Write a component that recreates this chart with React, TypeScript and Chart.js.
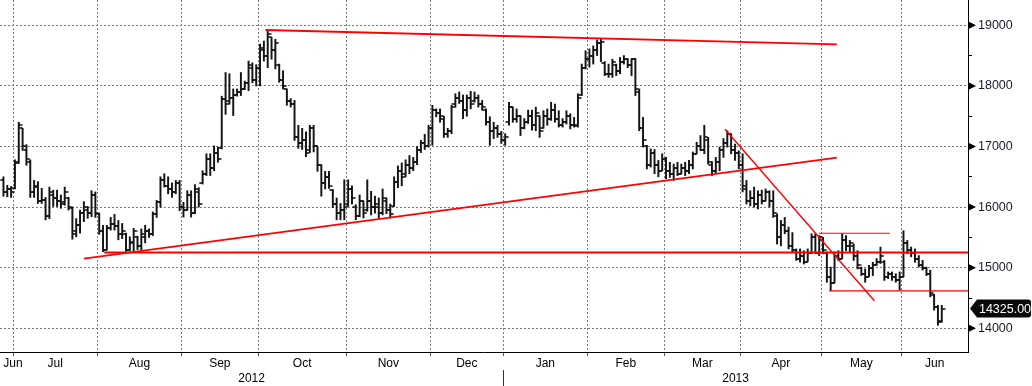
import React, { useEffect, useRef } from 'react';
import { Chart, registerables } from 'chart.js';

Chart.register(...registerables);

// ---- axis labels ----
const MONTH_LABELS = ['Jun', 'Jul', 'Aug', 'Sep', 'Oct', 'Nov', 'Dec', 'Jan', 'Feb', 'Mar', 'Apr', 'May', 'Jun'];
const MONTH_BARS = [3, 22, 22, 20, 23, 22, 19, 22, 20, 20, 21, 21, 11];
const YEAR_LABELS = ['2012', '2013'];
const Y_TICKS = [14000, 14500, 15000, 15500, 16000, 16500, 17000, 17500, 18000, 18500, 19000];

// ---- daily OHLC ----
const OPEN = [
  16450, 16250, 16300, 16320, 16750, 17300, 16950, 16750, 16250, 16350,
  16100, 16120, 15850, 16200, 16150, 16100, 16080, 16150, 15990, 15600,
  15700, 15900, 15950, 15900, 16200, 15880, 15600, 15300, 15650, 15720,
  15680, 15550, 15550, 15300, 15400, 15500, 15350, 15500, 15600, 15550,
  15880, 16080, 16450, 16350, 16300, 16250, 16400, 16000, 15950, 16200,
  15900, 16250, 16400, 16550, 16800, 16650, 16900, 16980, 17780, 17750,
  17800, 17850, 17900, 17950, 18050, 18300, 18100, 18300, 18600, 18500,
  18800, 18600, 18350, 18100, 17950, 17750, 17700, 17150, 17050, 17100,
  16950, 17300, 17000, 16700, 16400, 16500, 16290, 16050, 15900, 15950,
  16050, 16300, 16000, 15850, 16100, 15950, 16100, 16000, 16000, 15900,
  16100, 15950, 16010, 16420, 16600, 16550, 16700, 16650, 16750, 16950,
  17050, 17000, 17300, 17600, 17550, 17450, 17200, 17250, 17700, 17800,
  17750, 17600, 17800, 17750, 17800, 17700, 17600, 17400, 17250, 17300,
  17200, 17100, 17400, 17650, 17450, 17500, 17300, 17400, 17500, 17350,
  17500, 17300, 17500, 17450, 17600, 17450, 17350, 17400, 17500, 17350,
  17350, 17850, 18300, 18450, 18500, 18600, 18700, 18380, 18200, 18200,
  18350, 18250, 18400, 18450, 18350, 18450, 17900, 17300, 17000, 16700,
  16900, 16700, 16600, 16800, 16600, 16550, 16650, 16550, 16650, 16600,
  16700, 16880, 17000, 16950, 17100, 16700, 16600, 16750, 16950, 17050,
  17200, 16950, 16900, 16700, 16300, 16100, 16150, 16050, 16200, 16100,
  16250, 16100, 15850, 15500, 15700, 15600, 15350, 15300, 15150, 15200,
  15100, 15250, 15500, 15250, 15450, 15250, 14850, 14750, 15200, 15150,
  15450, 15350, 15350, 15200, 15000, 14900, 14850, 15000, 15050, 15100,
  15100, 14850, 14900, 14850, 14800, 14850, 15400, 15300, 15250, 15150,
  15050, 15000, 14900, 14550, 14350, 14120,
];
const HIGH = [
  16500, 16360, 16340, 16780, 17400, 17300, 17030, 16780, 16440, 16420,
  16310, 16160, 16330, 16280, 16280, 16200, 16330, 16160, 16000, 15810,
  15950, 16090, 16010, 16270, 16250, 15900, 15700, 15700, 15830, 15880,
  15780, 15730, 15570, 15510, 15650, 15520, 15640, 15700, 15640, 15920,
  16110, 16500, 16550, 16500, 16400, 16440, 16440, 16080, 16270, 16270,
  16370, 16320, 16600, 16880, 16880, 17010, 16990, 17830, 18220, 18200,
  17950, 17950, 18220, 18080, 18410, 18380, 18350, 18690, 18740, 18920,
  18800, 18770, 18360, 18250, 17950, 17790, 17760, 17350, 17300, 17240,
  17350, 17350, 17000, 16700, 16590, 16590, 16290, 16150, 16060, 16450,
  16450, 16350, 16040, 16200, 16100, 16450, 16260, 16180, 16150, 16300,
  16150, 16050, 16500, 16680, 16730, 16780, 16850, 16820, 17000, 17100,
  17200, 17350, 17680, 17620, 17620, 17500, 17300, 17680, 17870, 17900,
  17850, 17850, 17910, 17900, 17850, 17760, 17620, 17490, 17400, 17350,
  17250, 17210, 17730, 17650, 17620, 17510, 17460, 17600, 17600, 17650,
  17510, 17590, 17620, 17730, 17700, 17590, 17460, 17590, 17540, 17480,
  17870, 18360, 18580, 18610, 18660, 18760, 18770, 18400, 18360, 18440,
  18360, 18470, 18500, 18450, 18450, 18450, 17950, 17480, 17020, 16960,
  16950, 16770, 16880, 16820, 16740, 16710, 16740, 16710, 16740, 16770,
  16910, 17070, 17180, 17350, 17150, 16750, 16820, 16990, 17130, 17260,
  17210, 17040, 16930, 16880, 16440, 16270, 16330, 16270, 16280, 16300,
  16270, 16270, 15890, 15780, 15830, 15670, 15580, 15310, 15310, 15280,
  15310, 15560, 15560, 15530, 15500, 15260, 15010, 15260, 15280, 15560,
  15530, 15450, 15390, 15280, 15010, 14980, 15040, 15090, 15150, 15340,
  15120, 14930, 14930, 14900, 14930, 15610, 15450, 15340, 15310, 15200,
  15120, 15010, 14960, 14560, 14380, 14380,
];
const LOW = [
  16180, 16170, 16160, 16300, 16720, 16940, 16690, 16160, 16160, 16060,
  16060, 15790, 15810, 16010, 16010, 15980, 16030, 15950, 15470, 15510,
  15570, 15760, 15815, 15840, 15830, 15550, 15265, 15290, 15620, 15620,
  15460, 15480, 15270, 15280, 15280, 15300, 15290, 15410, 15500, 15530,
  15830, 16000, 16330, 16220, 16160, 16220, 15940, 15835, 15945, 15835,
  15890, 16000, 16380, 16520, 16520, 16600, 16740, 16960, 17530, 17700,
  17510, 17830, 17840, 17940, 17920, 18050, 18000, 18000, 18410, 18300,
  18440, 18280, 18060, 17950, 17680, 17650, 17100, 16970, 16950, 16830,
  16900, 16910, 16590, 16180, 16300, 16310, 15990, 15790, 15790, 15790,
  16010, 16050, 15790, 15840, 15820, 15930, 15870, 15900, 15820, 15870,
  15890, 15820, 16010, 16320, 16350, 16500, 16550, 16600, 16700, 16900,
  16950, 16990, 17020, 17490, 17400, 17150, 17150, 17210, 17650, 17710,
  17460, 17500, 17620, 17730, 17650, 17600, 17350, 17020, 17130, 17150,
  17050, 17020, 17350, 17400, 17400, 17180, 17290, 17380, 17270, 17260,
  17150, 17300, 17350, 17430, 17400, 17320, 17320, 17370, 17290, 17320,
  17320, 17840, 18280, 18310, 18360, 18500, 18400, 18170, 18140, 18140,
  18170, 18200, 18360, 18300, 18170, 17840, 17260, 16990, 16630, 16660,
  16550, 16500, 16600, 16470, 16490, 16440, 16520, 16550, 16520, 16550,
  16630, 16880, 16930, 16880, 16710, 16520, 16550, 16600, 16820, 16990,
  16880, 16770, 16630, 16250, 16050, 16020, 16000, 15970, 16050, 16100,
  16000, 15830, 15390, 15360, 15560, 15310, 15250, 15120, 15090, 15060,
  15100, 15230, 15230, 15200, 15230, 14760, 14620, 14750, 15120, 15150,
  15280, 15250, 15120, 14980, 14870, 14760, 14850, 14870, 15040, 15070,
  14790, 14820, 14790, 14760, 14630, 14850, 15230, 15180, 15090, 15010,
  14960, 14870, 14520, 14300, 14050, 14100,
];
const CLOSE = [
  16250, 16300, 16250, 16720, 17350, 17000, 16800, 16250, 16330, 16100,
  16120, 15850, 16250, 16150, 16100, 16050, 16250, 16000, 15550, 15700,
  15900, 16000, 15900, 16200, 15900, 15600, 15300, 15650, 15720, 15680,
  15550, 15600, 15300, 15420, 15600, 15350, 15550, 15600, 15550, 15880,
  16080, 16450, 16350, 16300, 16250, 16400, 16000, 15950, 16200, 15900,
  16300, 16050, 16550, 16800, 16650, 16900, 16800, 17780, 17700, 17800,
  17850, 17900, 17950, 18050, 18350, 18100, 18300, 18620, 18500, 18850,
  18600, 18700, 18100, 18000, 17750, 17700, 17150, 17050, 17100, 16900,
  17300, 17000, 16700, 16400, 16500, 16350, 16050, 15900, 15950, 16000,
  16300, 16150, 15850, 16100, 15900, 16100, 16000, 16050, 15900, 16150,
  15950, 15880, 16420, 16600, 16500, 16700, 16650, 16750, 16950, 17050,
  17000, 17300, 17600, 17550, 17500, 17200, 17250, 17650, 17800, 17750,
  17600, 17800, 17700, 17800, 17700, 17650, 17400, 17250, 17300, 17200,
  17100, 17150, 17650, 17450, 17500, 17300, 17400, 17500, 17350, 17550,
  17250, 17500, 17450, 17600, 17450, 17350, 17400, 17500, 17350, 17330,
  17800, 18300, 18450, 18500, 18600, 18700, 18720, 18200, 18200, 18400,
  18250, 18400, 18450, 18350, 18450, 17950, 17300, 17100, 16700, 16900,
  16700, 16600, 16800, 16600, 16550, 16650, 16550, 16650, 16600, 16700,
  16880, 17000, 16950, 17150, 16750, 16600, 16750, 16950, 17050, 17200,
  16950, 16900, 16700, 16350, 16100, 16150, 16050, 16200, 16100, 16250,
  16100, 15900, 15500, 15700, 15600, 15350, 15300, 15150, 15200, 15100,
  15250, 15500, 15250, 15500, 15300, 14850, 14750, 15200, 15150, 15450,
  15350, 15400, 15200, 15050, 14900, 14850, 15000, 15050, 15100, 15200,
  14850, 14900, 14850, 14800, 14850, 15400, 15300, 15250, 15150, 15050,
  15000, 14900, 14580, 14350, 14100, 14325,
];

// ---- trend lines: [barIndex, price] endpoints ----
const TREND_TOP = [[68.4, 18922], [217.6, 18686]];
const TREND_RISING = [[21.0, 15149], [217.6, 16815]];
const TREND_FLAT = [[26.3, 15251], [251.85, 15251]];
const TREND_DOWN = [[188.4, 17284], [227.4, 14455]];
const BOX_TOP = [[212.9, 15568], [231.5, 15568]];
const BOX_BOTTOM = [[215.6, 14616], [251.85, 14616]];

const X_MIN = -0.9;
const X_MAX = 251.85;
const Y_MIN = 13609;
const Y_MAX = 19417;

const FONT = '"Liberation Sans", Arial, sans-serif';
const RED = '#ff0000';
const BAR = '#141414';
const GRID = '#7a7a7a';

export default function App() {
  const ref = useRef<HTMLCanvasElement>(null);

  useEffect(() => {
    const canvas = ref.current!;
    const mkTick = (left: boolean) => {
      const c = document.createElement('canvas');
      c.width = 8;
      c.height = 2;
      const g = c.getContext('2d')!;
      g.fillStyle = BAR;
      g.fillRect(left ? 0.5 : 4, 0.2, 3.5, 1.6);
      return c;
    };
    const openImg = mkTick(true);
    const closeImg = mkTick(false);

    const boundaries: number[] = [];
    let acc = 0;
    for (let k = 0; k < MONTH_BARS.length - 1; k++) {
      acc += MONTH_BARS[k];
      boundaries.push(acc - 0.5);
    }
    const monthPos = MONTH_LABELS.map((_, k) => {
      if (k === 0) return boundaries[0];
      const a = boundaries[k - 1];
      const b = k < boundaries.length ? boundaries[k] : X_MAX;
      return (a + b) / 2;
    });
    const yearSplit = boundaries[6];
    const yearTicks = [(X_MIN + yearSplit) / 2, yearSplit, (yearSplit + X_MAX) / 2];
    const yearText = [YEAR_LABELS[0], '', YEAR_LABELS[1]];

    const idx = OPEN.map((_, i) => i);
    const line = (pts: number[][], color: string, width: number) => ({
      type: 'line' as const,
      data: pts.map(([x, y]) => ({ x, y })),
      borderColor: color,
      borderWidth: width,
      pointRadius: 0,
      fill: false,
      order: 0,
    });

    const axisMarks = {
      id: 'axisMarks',
      afterDraw(chart: any) {
        const ys = chart.scales.y;
        const ctx = chart.ctx;
        const x0 = ys.left;
        ctx.save();
        ctx.fillStyle = '#000';
        Y_TICKS.filter((v) => v % 1000 === 0).forEach((v) => {
          const py = ys.getPixelForValue(v);
          ctx.beginPath();
          ctx.moveTo(x0 + 1, py - 3.5);
          ctx.lineTo(x0 + 8, py);
          ctx.lineTo(x0 + 1, py + 3.5);
          ctx.closePath();
          ctx.fill();
        });
        const last = CLOSE[CLOSE.length - 1];
        const py = ys.getPixelForValue(last);
        const left = x0 + 9;
        const right = 1031;
        const h = 9;
        const r = 3;
        ctx.fillStyle = '#0a0a0a';
        ctx.beginPath();
        ctx.moveTo(x0 + 2, py);
        ctx.lineTo(left, py - h);
        ctx.lineTo(right - r, py - h);
        ctx.quadraticCurveTo(right, py - h, right, py - h + r);
        ctx.lineTo(right, py + h - r);
        ctx.quadraticCurveTo(right, py + h, right - r, py + h);
        ctx.lineTo(left, py + h);
        ctx.closePath();
        ctx.fill();
        ctx.fillStyle = '#ffffff';
        ctx.font = `12.5px ${FONT}`;
        ctx.textAlign = 'center';
        ctx.textBaseline = 'middle';
        ctx.fillText(last.toFixed(2), (left + right) / 2 + 1, py + 0.5);
        ctx.restore();
      },
    };

    const chart = new Chart(canvas, {
      type: 'bar',
      data: {
        datasets: [
          line(TREND_TOP, RED, 1.8),
          line(TREND_RISING, RED, 1.8),
          line(TREND_FLAT, RED, 1.8),
          line(TREND_DOWN, RED, 1.4),
          line(BOX_TOP, RED, 1.2),
          line(BOX_BOTTOM, RED, 1.2),
          {
            type: 'line' as const,
            data: idx.map((i) => ({ x: i, y: OPEN[i] })),
            showLine: false,
            pointStyle: openImg as any,
            pointRadius: 2,
            order: 1,
          },
          {
            type: 'line' as const,
            data: idx.map((i) => ({ x: i, y: CLOSE[i] })),
            showLine: false,
            pointStyle: closeImg as any,
            pointRadius: 2,
            order: 1,
          },
          {
            type: 'bar' as const,
            data: idx.map((i) => ({ x: i, y: [LOW[i], HIGH[i]] })) as any,
            backgroundColor: BAR,
            borderWidth: 0,
            barThickness: 1.3,
            grouped: false,
            order: 2,
          },
        ],
      },
      options: {
        responsive: false,
        maintainAspectRatio: false,
        devicePixelRatio: 1,
        animation: false,
        events: [],
        layout: { padding: 0, autoPadding: false },
        plugins: { legend: { display: false }, tooltip: { enabled: false } },
        scales: {
          x: {
            type: 'linear',
            axis: 'x',
            position: 'bottom',
            weight: 0,
            min: X_MIN,
            max: X_MAX,
            offset: false,
            afterBuildTicks: (s: any) => {
              s.ticks = boundaries.map((v) => ({ value: v }));
            },
            afterFit: (s: any) => {
              s.height = 0;
              s.paddingLeft = 0;
              s.paddingRight = 0;
            },
            ticks: { display: false },
            grid: {
              offset: false,
              color: GRID,
              lineWidth: 1,
              drawTicks: true,
              tickLength: 4,
              tickColor: '#555',
            },
            border: { display: true, color: '#000', width: 1, dash: [2, 2] },
          },
          xm: {
            type: 'linear',
            axis: 'x',
            position: 'bottom',
            weight: 1,
            min: X_MIN,
            max: X_MAX,
            offset: false,
            afterBuildTicks: (s: any) => {
              s.ticks = monthPos.map((v) => ({ value: v }));
            },
            afterFit: (s: any) => {
              s.height = 18;
              s.paddingLeft = 0;
              s.paddingRight = 0;
            },
            ticks: {
              autoSkip: false,
              maxRotation: 0,
              minRotation: 0,
              padding: -4,
              color: '#000',
              font: { family: FONT, size: 12 },
              callback: (_v: any, i: number) => MONTH_LABELS[i],
            },
            grid: { display: false, offset: false },
            border: { display: false },
          },
          xy: {
            type: 'linear',
            axis: 'x',
            position: 'bottom',
            weight: 2,
            min: X_MIN,
            max: X_MAX,
            offset: false,
            afterBuildTicks: (s: any) => {
              s.ticks = yearTicks.map((v) => ({ value: v }));
            },
            afterFit: (s: any) => {
              s.height = 16;
              s.paddingLeft = 0;
              s.paddingRight = 0;
            },
            ticks: {
              autoSkip: false,
              maxRotation: 0,
              minRotation: 0,
              padding: -15,
              color: '#000',
              font: { family: FONT, size: 12 },
              callback: (_v: any, i: number) => yearText[i],
            },
            grid: {
              display: true,
              offset: false,
              drawOnChartArea: false,
              drawTicks: true,
              tickLength: 16,
              tickWidth: 1,
              tickColor: (c: any) => (c.index === 1 ? '#333' : 'rgba(0,0,0,0)'),
            },
            border: { display: false },
          },
          y: {
            type: 'linear',
            position: 'right',
            min: Y_MIN,
            max: Y_MAX,
            afterBuildTicks: (s: any) => {
              s.ticks = Y_TICKS.map((v) => ({ value: v }));
            },
            afterFit: (s: any) => {
              s.width = 64;
              s.paddingTop = 0;
              s.paddingBottom = 0;
            },
            ticks: {
              autoSkip: false,
              padding: 6,
              color: '#1b1b2b',
              font: { family: FONT, size: 12.5 },
              callback: (v: any) => (Number(v) % 1000 === 0 ? String(v) : ''),
            },
            grid: {
              color: (c: any) => (c.tick && c.tick.value % 1000 === 0 ? GRID : 'rgba(0,0,0,0)'),
              lineWidth: 1,
              drawTicks: true,
              tickLength: 4,
              tickColor: '#000',
            },
            border: { display: true, color: '#000', width: 1, dash: [2, 2] },
          },
        },
      } as any,
      plugins: [axisMarks],
    });

    return () => chart.destroy();
  }, []);

  return (
    <div style={{ position: 'absolute', left: 0, top: 0, width: 1032, height: 386, background: '#fff' }}>
      <canvas ref={ref} width={1032} height={386} style={{ display: 'block', width: 1032, height: 386 }} />
    </div>
  );
}
